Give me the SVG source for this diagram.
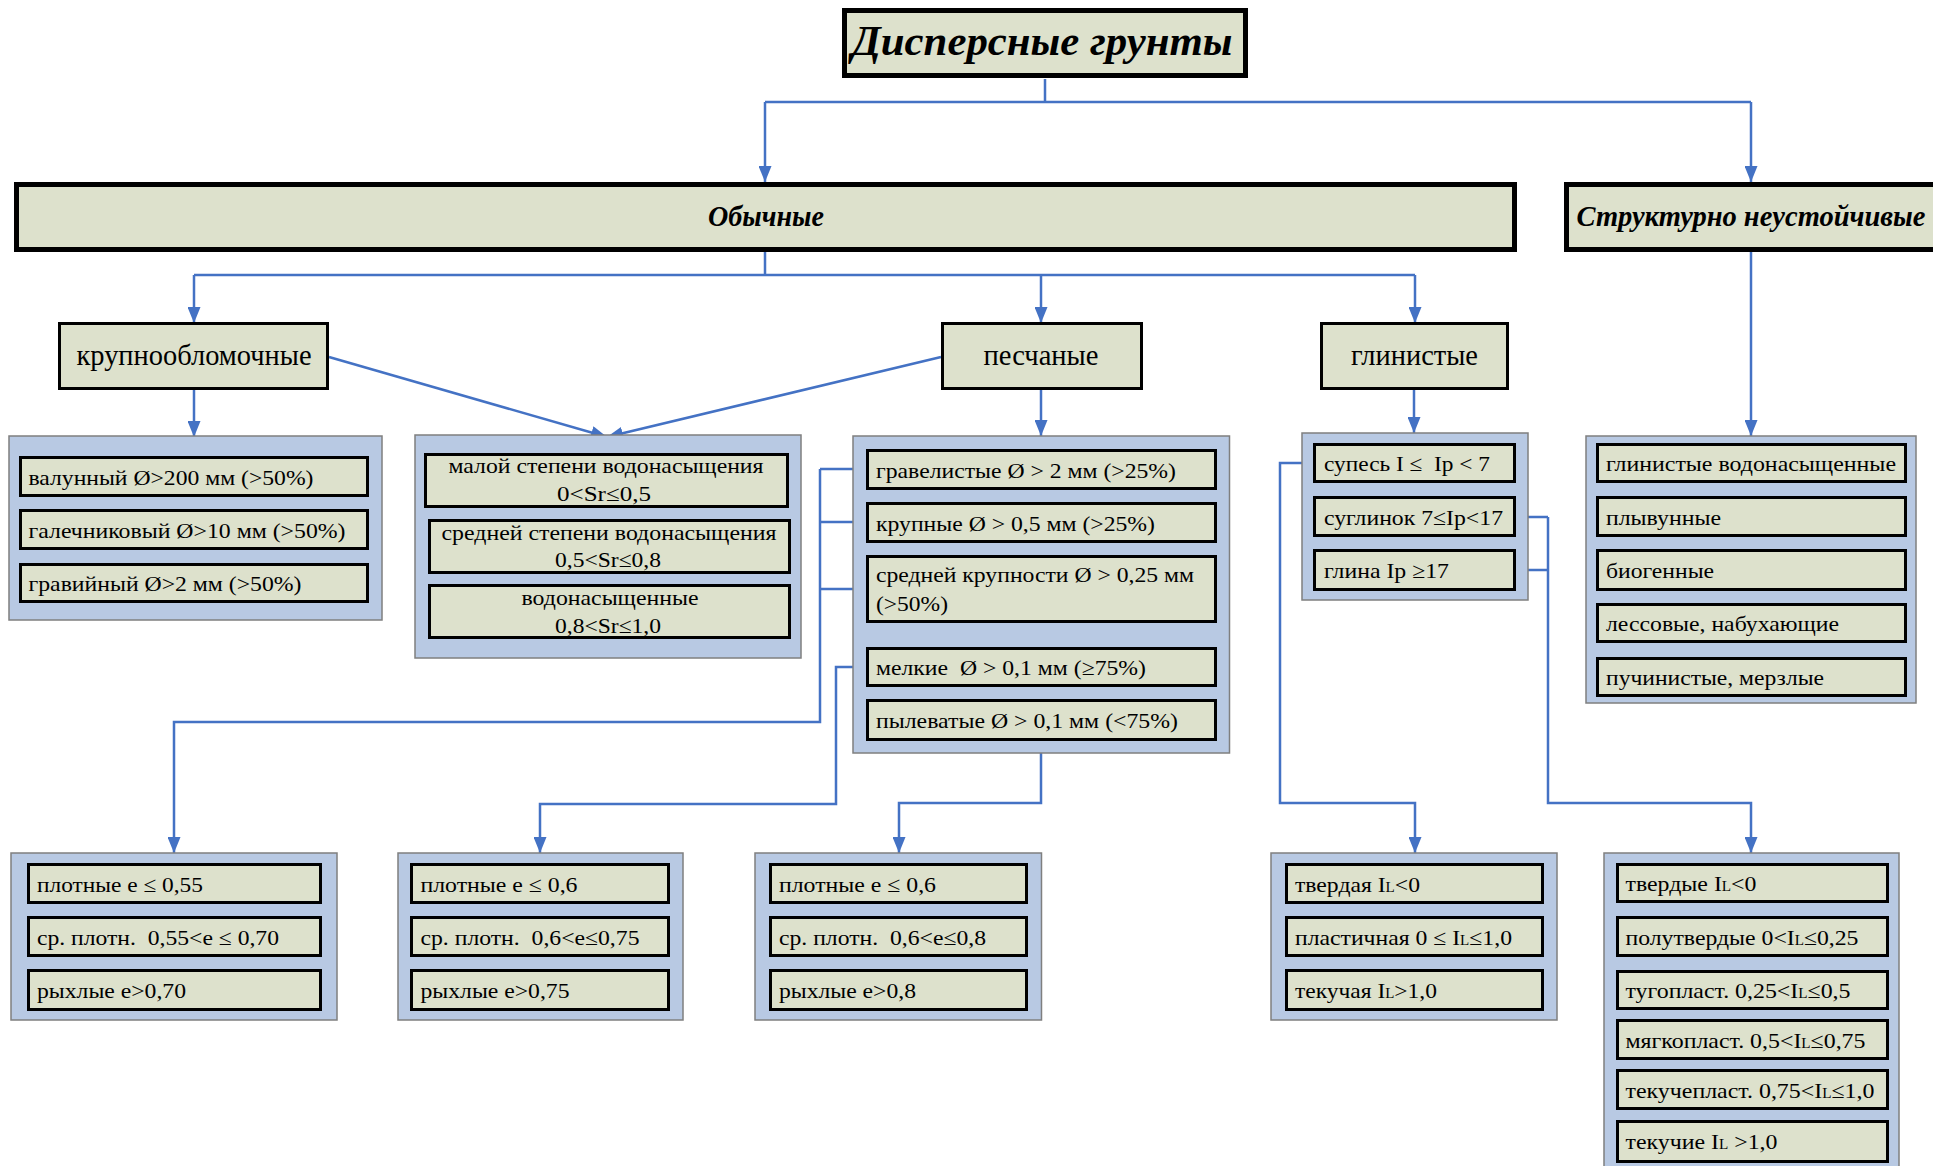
<svg xmlns="http://www.w3.org/2000/svg" width="1933" height="1166" viewBox="0 0 1933 1166">
<style>
.item{fill:#dde1cc;stroke:#000;stroke-width:3}
.hdr{fill:#dde1cc;stroke:#000;stroke-width:3}
.big{fill:#dde1cc;stroke:#000;stroke-width:5}
.grp{fill:#b8c9e3;stroke:#7f7f7f;stroke-width:1.5}
.t{font-family:"Liberation Serif","Times New Roman",serif;font-size:22px;fill:#000}
.h{font-size:29px}
.bi{font-weight:bold;font-style:italic}
.m{text-anchor:middle}
.c{stroke:#4472c4;stroke-width:2.5;fill:none;stroke-linejoin:miter}
.a{marker-end:url(#arr)}
</style>
<defs>
<marker id="arr" markerUnits="userSpaceOnUse" markerWidth="16" markerHeight="13" refX="16" refY="6.5" orient="auto">
<path d="M0,0 L16,6.5 L0,13 z" fill="#4472c4"/>
</marker>
</defs>
<rect width="1933" height="1166" fill="#fff"/>

<g id="connectors">
<path class="c" d="M1045,79 V102 M765,102 H1751"/>
<path class="c a" d="M765,102 V182"/>
<path class="c a" d="M1751,102 V182"/>
<path class="c" d="M765,252 V275 M194,275 H1415"/>
<path class="c a" d="M194,275 V323"/>
<path class="c a" d="M1041,275 V323"/>
<path class="c a" d="M1415,275 V323"/>
<path class="c a" d="M194,390 V437"/>
<path class="c a" d="M329,357 L607,437"/>
<path class="c a" d="M941,357 L607,437"/>
<path class="c a" d="M1041,390 V436"/>
<path class="c a" d="M1414,390 V433"/>
<path class="c a" d="M1751,252 V436"/>
<path class="c" d="M866,469 H820 M866,522 H820 M866,589 H820"/>
<path class="c a" d="M820,469 V722 H174 V853"/>
<path class="c a" d="M866,667 H836 V804 H540 V853"/>
<path class="c a" d="M1041,741 V803 H899 V853"/>
<path class="c a" d="M1313,463 H1280 V803 H1415 V853"/>
<path class="c" d="M1516,517 H1548 M1516,570 H1548"/>
<path class="c a" d="M1548,517 V803 H1751 V853"/>
</g>

<g id="title">
<rect class="big" x="844.5" y="10.5" width="401" height="65"/>
<text class="t bi m" x="1042" y="55" font-size="42" style="font-size:42px" textLength="381" lengthAdjust="spacingAndGlyphs">Дисперсные грунты</text>
</g>

<g id="obychnye">
<rect class="big" x="16.5" y="184.5" width="1498" height="65"/>
<text class="t h bi m" x="766" y="226" textLength="116" lengthAdjust="spacingAndGlyphs">Обычные</text>
</g>

<g id="strukturno">
<rect class="big" x="1566.5" y="184.5" width="390" height="65"/>
<text class="t h bi m" x="1751" y="226" textLength="349" lengthAdjust="spacingAndGlyphs">Структурно неустойчивые</text>
</g>

<g id="krupnoob">
<rect class="hdr" x="59.5" y="323.5" width="268" height="65"/>
<text class="t h m" x="194" y="365" textLength="235" lengthAdjust="spacingAndGlyphs">крупнообломочные</text>
</g>
<g id="peschanye">
<rect class="hdr" x="942.5" y="323.5" width="199" height="65"/>
<text class="t h m" x="1041" y="365" textLength="115" lengthAdjust="spacingAndGlyphs">песчаные</text>
</g>
<g id="glinistye">
<rect class="hdr" x="1321.5" y="323.5" width="186" height="65"/>
<text class="t h m" x="1414.5" y="365" textLength="127" lengthAdjust="spacingAndGlyphs">глинистые</text>
</g>

<g id="g-krupno">
<rect class="grp" x="9" y="436" width="373" height="184"/>
<rect class="item" x="20.5" y="457.5" width="347" height="38"/>
<text class="t" x="28.5" y="485" textLength="285" lengthAdjust="spacingAndGlyphs">валунный Ø&gt;200 мм (&gt;50%)</text>
<rect class="item" x="20.5" y="510.5" width="347" height="38"/>
<text class="t" x="28.5" y="538" textLength="317" lengthAdjust="spacingAndGlyphs">галечниковый Ø&gt;10 мм (&gt;50%)</text>
<rect class="item" x="20.5" y="564.5" width="347" height="37"/>
<text class="t" x="28.5" y="591" textLength="273" lengthAdjust="spacingAndGlyphs">гравийный Ø&gt;2 мм (&gt;50%)</text>
</g>

<g id="g-vodo">
<rect class="grp" x="415" y="435" width="386" height="223"/>
<rect class="item" x="425.5" y="454.5" width="362" height="52"/>
<text class="t m" x="606" y="473" textLength="315" lengthAdjust="spacingAndGlyphs">малой степени водонасыщения</text>
<text class="t m" x="604" y="501" textLength="94" lengthAdjust="spacingAndGlyphs">0&lt;Sr≤0,5</text>
<rect class="item" x="429.5" y="520.5" width="360" height="52"/>
<text class="t m" x="609" y="540" textLength="335" lengthAdjust="spacingAndGlyphs">средней степени водонасыщения</text>
<text class="t m" x="608" y="567" textLength="106" lengthAdjust="spacingAndGlyphs">0,5&lt;Sr≤0,8</text>
<rect class="item" x="429.5" y="585.5" width="360" height="52"/>
<text class="t m" x="610" y="605" textLength="177" lengthAdjust="spacingAndGlyphs">водонасыщенные</text>
<text class="t m" x="608" y="633" textLength="106" lengthAdjust="spacingAndGlyphs">0,8&lt;Sr≤1,0</text>
</g>

<g id="g-pesok">
<rect class="grp" x="853" y="436" width="376.5" height="317"/>
<rect class="item" x="867.5" y="450.5" width="348" height="38"/>
<text class="t" x="876" y="478" textLength="300" lengthAdjust="spacingAndGlyphs">гравелистые Ø &gt; 2 мм (&gt;25%)</text>
<rect class="item" x="867.5" y="503.5" width="348" height="38"/>
<text class="t" x="876" y="531" textLength="279" lengthAdjust="spacingAndGlyphs">крупные Ø &gt; 0,5 мм (&gt;25%)</text>
<rect class="item" x="867.5" y="556.5" width="348" height="65"/>
<text class="t" x="876" y="582" textLength="318" lengthAdjust="spacingAndGlyphs">средней крупности Ø &gt; 0,25 мм</text>
<text class="t" x="876" y="611" textLength="72" lengthAdjust="spacingAndGlyphs">(&gt;50%)</text>
<rect class="item" x="867.5" y="648.5" width="348" height="37"/>
<text class="t" x="876" y="675" textLength="270" lengthAdjust="spacingAndGlyphs" xml:space="preserve">мелкие  Ø &gt; 0,1 мм (≥75%)</text>
<rect class="item" x="867.5" y="700.5" width="348" height="39"/>
<text class="t" x="876" y="728" textLength="302" lengthAdjust="spacingAndGlyphs">пылеватые Ø &gt; 0,1 мм (&lt;75%)</text>
</g>

<g id="g-glina">
<rect class="grp" x="1302" y="433" width="226" height="167"/>
<rect class="item" x="1314.5" y="444.5" width="200" height="37"/>
<text class="t" x="1324" y="471" textLength="166" lengthAdjust="spacingAndGlyphs" xml:space="preserve">супесь I ≤  Ip &lt; 7</text>
<rect class="item" x="1314.5" y="497.5" width="200" height="38"/>
<text class="t" x="1324" y="525" textLength="179" lengthAdjust="spacingAndGlyphs">суглинок 7≤Ip&lt;17</text>
<rect class="item" x="1314.5" y="550.5" width="200" height="39"/>
<text class="t" x="1324" y="578" textLength="125" lengthAdjust="spacingAndGlyphs">глина Ip ≥17</text>
</g>

<g id="g-strukt">
<rect class="grp" x="1586" y="436" width="330" height="267"/>
<rect class="item" x="1597.5" y="444.5" width="308" height="37"/>
<text class="t" x="1606" y="471" textLength="290" lengthAdjust="spacingAndGlyphs">глинистые водонасыщенные</text>
<rect class="item" x="1597.5" y="497.5" width="308" height="38"/>
<text class="t" x="1606" y="525" textLength="115" lengthAdjust="spacingAndGlyphs">плывунные</text>
<rect class="item" x="1597.5" y="550.5" width="308" height="39"/>
<text class="t" x="1606" y="578" textLength="108" lengthAdjust="spacingAndGlyphs">биогенные</text>
<rect class="item" x="1597.5" y="604.5" width="308" height="37"/>
<text class="t" x="1606" y="631" textLength="233" lengthAdjust="spacingAndGlyphs">лессовые, набухающие</text>
<rect class="item" x="1597.5" y="658.5" width="308" height="37"/>
<text class="t" x="1606" y="685" textLength="218" lengthAdjust="spacingAndGlyphs">пучинистые, мерзлые</text>
</g>

<g id="b-krupno">
<rect class="grp" x="11" y="853" width="326" height="167"/>
<rect class="item" x="28.5" y="864.5" width="292" height="38"/>
<text class="t" x="37" y="892" textLength="166" lengthAdjust="spacingAndGlyphs">плотные e ≤ 0,55</text>
<rect class="item" x="28.5" y="917.5" width="292" height="38"/>
<text class="t" x="37" y="945" textLength="242" lengthAdjust="spacingAndGlyphs" xml:space="preserve">ср. плотн.  0,55&lt;e ≤ 0,70</text>
<rect class="item" x="28.5" y="970.5" width="292" height="39"/>
<text class="t" x="37" y="998" textLength="149" lengthAdjust="spacingAndGlyphs">рыхлые e&gt;0,70</text>
</g>

<g id="b-melkie">
<rect class="grp" x="398" y="853" width="285" height="167"/>
<rect class="item" x="411.5" y="864.5" width="257" height="38"/>
<text class="t" x="420.5" y="892" textLength="157" lengthAdjust="spacingAndGlyphs">плотные e ≤ 0,6</text>
<rect class="item" x="411.5" y="917.5" width="257" height="38"/>
<text class="t" x="420.5" y="945" textLength="219" lengthAdjust="spacingAndGlyphs" xml:space="preserve">ср. плотн.  0,6&lt;e≤0,75</text>
<rect class="item" x="411.5" y="970.5" width="257" height="39"/>
<text class="t" x="420.5" y="998" textLength="149" lengthAdjust="spacingAndGlyphs">рыхлые e&gt;0,75</text>
</g>

<g id="b-pylev">
<rect class="grp" x="755" y="853" width="286.5" height="167"/>
<rect class="item" x="770.5" y="864.5" width="256" height="38"/>
<text class="t" x="779" y="892" textLength="157" lengthAdjust="spacingAndGlyphs">плотные e ≤ 0,6</text>
<rect class="item" x="770.5" y="917.5" width="256" height="38"/>
<text class="t" x="779" y="945" textLength="207" lengthAdjust="spacingAndGlyphs" xml:space="preserve">ср. плотн.  0,6&lt;e≤0,8</text>
<rect class="item" x="770.5" y="970.5" width="256" height="39"/>
<text class="t" x="779" y="998" textLength="137" lengthAdjust="spacingAndGlyphs">рыхлые e&gt;0,8</text>
</g>

<g id="b-supes">
<rect class="grp" x="1271" y="853" width="286" height="167"/>
<rect class="item" x="1286.5" y="864.5" width="256" height="38"/>
<text class="t" x="1295" y="892" textLength="125" lengthAdjust="spacingAndGlyphs">твердая I<tspan font-size="14">L</tspan>&lt;0</text>
<rect class="item" x="1286.5" y="917.5" width="256" height="38"/>
<text class="t" x="1295" y="945" textLength="217" lengthAdjust="spacingAndGlyphs">пластичная 0 ≤ I<tspan font-size="14">L</tspan>≤1,0</text>
<rect class="item" x="1286.5" y="970.5" width="256" height="39"/>
<text class="t" x="1295" y="998" textLength="142" lengthAdjust="spacingAndGlyphs">текучая I<tspan font-size="14">L</tspan>&gt;1,0</text>
</g>

<g id="b-suglinok">
<rect class="grp" x="1604" y="853" width="295" height="330"/>
<rect class="item" x="1617.5" y="864.5" width="270" height="37"/>
<text class="t" x="1625.5" y="891" textLength="131" lengthAdjust="spacingAndGlyphs">твердые I<tspan font-size="14">L</tspan>&lt;0</text>
<rect class="item" x="1617.5" y="917.5" width="270" height="38"/>
<text class="t" x="1625.5" y="945" textLength="233" lengthAdjust="spacingAndGlyphs">полутвердые 0&lt;I<tspan font-size="14">L</tspan>≤0,25</text>
<rect class="item" x="1617.5" y="971.5" width="270" height="37"/>
<text class="t" x="1625.5" y="998" textLength="225" lengthAdjust="spacingAndGlyphs">тугопласт. 0,25&lt;I<tspan font-size="14">L</tspan>≤0,5</text>
<rect class="item" x="1617.5" y="1020.5" width="270" height="38"/>
<text class="t" x="1625.5" y="1048" textLength="240" lengthAdjust="spacingAndGlyphs">мягкопласт. 0,5&lt;I<tspan font-size="14">L</tspan>≤0,75</text>
<rect class="item" x="1617.5" y="1070.5" width="270" height="38"/>
<text class="t" x="1625.5" y="1098" textLength="249" lengthAdjust="spacingAndGlyphs">текучепласт. 0,75&lt;I<tspan font-size="14">L</tspan>≤1,0</text>
<rect class="item" x="1617.5" y="1121.5" width="270" height="40"/>
<text class="t" x="1625.5" y="1149" textLength="152" lengthAdjust="spacingAndGlyphs">текучие I<tspan font-size="14">L</tspan> &gt;1,0</text>
</g>
</svg>
